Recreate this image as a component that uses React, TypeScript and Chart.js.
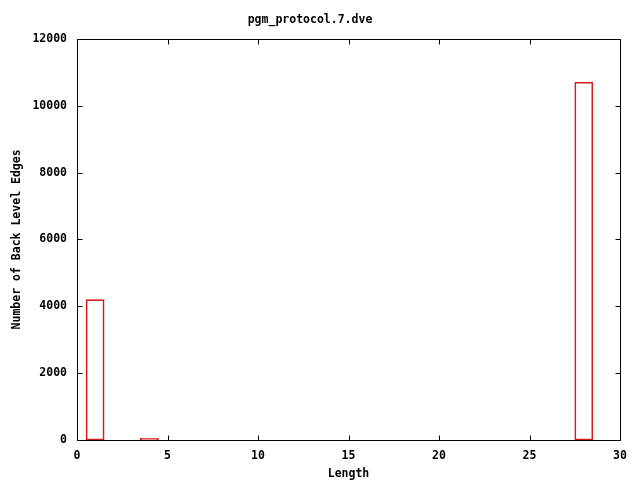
import React, { useEffect, useRef } from "react";
import { Chart, registerables } from "chart.js";

Chart.register(...registerables);

const TITLE = "pgm_protocol.7.dve";
const X_TITLE = "Length";
const Y_TITLE = "Number of Back Level Edges";
const lengths = [1, 4, 28];
const counts = [4200, 50, 10700];
const X_MIN = 0;
const X_MAX = 30;
const X_STEP = 5;
const Y_MIN = 0;
const Y_MAX = 12000;
const Y_STEP = 2000;

const FONT = "'DejaVu Sans Mono', monospace";
const FS = 11.5;
const RED = "#d41a1a";

const framePlugin = {
  id: "gnuplotFrame",
  afterDraw(chart: any) {
    const { ctx, chartArea } = chart;
    const { left, right, top, bottom } = chartArea;
    const xs = chart.scales.x;
    const ys = chart.scales.y;
    const tl = 5;
    ctx.save();
    ctx.strokeStyle = "#000";
    ctx.lineWidth = 1;
    ctx.beginPath();
    const L = Math.round(left) + 0.5;
    const R = Math.round(right) + 0.5;
    const T = Math.round(top) + 0.5;
    const B = Math.round(bottom) + 0.5;
    ctx.rect(L, T, R - L, B - T);
    xs.ticks.forEach((t: any) => {
      const px = Math.round(xs.getPixelForValue(t.value)) + 0.5;
      ctx.moveTo(px, B);
      ctx.lineTo(px, B - tl);
      ctx.moveTo(px, T);
      ctx.lineTo(px, T + tl);
    });
    ys.ticks.forEach((t: any) => {
      const py = Math.round(ys.getPixelForValue(t.value)) + 0.5;
      ctx.moveTo(L, py);
      ctx.lineTo(L + tl, py);
      ctx.moveTo(R, py);
      ctx.lineTo(R - tl, py);
    });
    ctx.stroke();
    ctx.restore();
  },
};

export default function App() {
  const ref = useRef<HTMLCanvasElement>(null);
  useEffect(() => {
    document.body.style.margin = "0";
    const table: { x: number; y: number | null }[] = [];
    for (let i = X_MIN; i <= X_MAX; i++) {
      const idx = lengths.indexOf(i);
      table.push({ x: i, y: idx >= 0 ? counts[idx] : null });
    }
    const font = { family: FONT, size: FS, weight: "bold" as const };
    const chart = new Chart(ref.current!, {
      type: "bar",
      data: {
        datasets: [
          {
            data: table as any,
            backgroundColor: "rgba(255,255,255,0)",
            borderColor: RED,
            borderWidth: 1,
            barPercentage: 1,
            categoryPercentage: 1,
            borderSkipped: false,
          },
        ],
      },
      options: {
        animation: false,
        responsive: false,
        maintainAspectRatio: false,
        layout: { padding: { left: 0, right: 20, top: 0, bottom: 0 } },
        plugins: {
          legend: { display: false },
          tooltip: { enabled: false },
          title: {
            display: true,
            text: TITLE,
            color: "#000",
            font,
            padding: { top: 13, bottom: 12 },
          },
        },
        scales: {
          x: {
            type: "linear",
            min: X_MIN,
            max: X_MAX,
            offset: false,
            grid: { display: false, drawTicks: false },
            border: { display: false },
            ticks: {
              stepSize: X_STEP,
              color: "#000",
              font,
              padding: 9,
              maxRotation: 0,
              callback: (v: any) => String(v),
            },
            title: {
              display: true,
              text: X_TITLE,
              color: "#000",
              font,
              padding: { top: 0, bottom: -1 },
            },
            afterFit: (s: any) => {
              s.height = 40;
            },
          },
          y: {
            min: Y_MIN,
            max: Y_MAX,
            grid: { display: false, drawTicks: false },
            border: { display: false },
            ticks: {
              stepSize: Y_STEP,
              color: "#000",
              font,
              padding: 10,
              callback: (v: any) => String(v),
            },
            title: {
              display: true,
              text: Y_TITLE,
              color: "#000",
              font,
              padding: { top: 10, bottom: 0 },
            },
            afterFit: (s: any) => {
              s.width = 77;
            },
          },
        },
      },
      plugins: [framePlugin],
    });
    return () => chart.destroy();
  }, []);
  return (
    <div style={{ position: "absolute", left: 0, top: 0, width: 640, height: 480, background: "#fff" }}>
      <canvas ref={ref} width={640} height={480} style={{ width: 640, height: 480 }} />
    </div>
  );
}
